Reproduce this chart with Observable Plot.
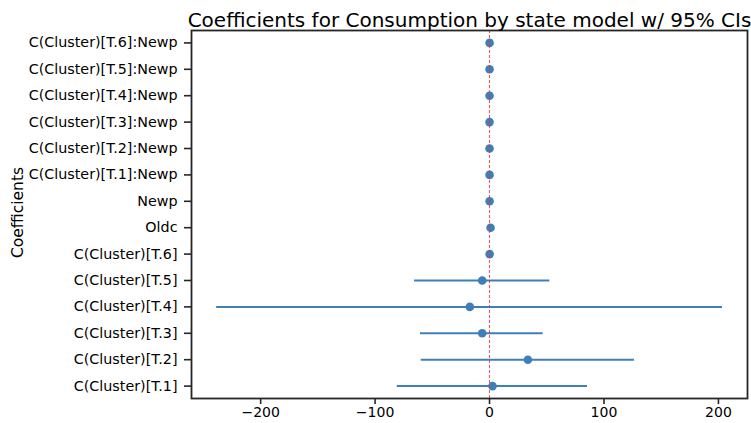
<!DOCTYPE html>
<html>
<head>
<meta charset="utf-8">
<script src="https://cdn.jsdelivr.net/npm/d3@7"></script>
<script src="https://cdn.jsdelivr.net/npm/@observablehq/plot@0.6"></script>
<style>
  html, body { margin: 0; padding: 0; background: #fff; }
</style>
</head>
<body>
<div id="chart"></div>
<script>
const title = "Coefficients for Consumption by state model w/ 95% CIs";
const yLabel = "Coefficients";
const terms = [
  "C(Cluster)[T.1]", "C(Cluster)[T.2]", "C(Cluster)[T.3]", "C(Cluster)[T.4]",
  "C(Cluster)[T.5]", "C(Cluster)[T.6]", "Oldc", "Newp",
  "C(Cluster)[T.1]:Newp", "C(Cluster)[T.2]:Newp", "C(Cluster)[T.3]:Newp",
  "C(Cluster)[T.4]:Newp", "C(Cluster)[T.5]:Newp", "C(Cluster)[T.6]:Newp"
];
const coef  = [2.6, 33.5, -6.4, -17.2, -6.4, 0.1, 0.9, 0.05, 0.02, 0.01, 0.0, 0.01, 0.02, 0.05];
const lower = [-80.6, -59.7, -60.3, -238.4, -65.5, -0.4, 0.6, -0.2, -0.3, -0.3, -0.3, -0.3, -0.3, -0.3];
const upper = [85.6, 126.6, 46.9, 203.5, 52.7, 0.6, 1.2, 0.3, 0.3, 0.3, 0.3, 0.3, 0.3, 0.3];
const xTicks = [-200, -100, 0, 100, 200];

const rows = terms.map((t, i) => ({term: t, coef: coef[i], lo: lower[i], hi: upper[i]}));
const blue = "#3f7fb8";

const chart = Plot.plot({
  width: 751,
  height: 423,
  marginLeft: 191,
  marginRight: 4,
  marginTop: 30,
  marginBottom: 25,
  style: {fontFamily: "DejaVu Sans", fontSize: "14px", color: "#000", background: "#fff", overflow: "visible"},
  x: {domain: [-260.4, 225.4], label: null},
  y: {type: "point", domain: terms.slice().reverse(), padding: 0.47, round: false, label: null},
  marks: [
    Plot.ruleY(rows, {y: "term", x1: "lo", x2: "hi", stroke: blue, strokeWidth: 2}),
    Plot.dot(rows, {y: "term", x: "coef", r: 4.3, fill: blue, stroke: "none"}),
    Plot.ruleX([0], {stroke: "#f03030", strokeOpacity: 0.85, strokeWidth: 1, strokeDasharray: "3,2"}),
    Plot.frame({stroke: "#262626", strokeWidth: 1.8}),
    Plot.axisX({ticks: xTicks, tickFormat: d3.format("d"), tickSize: 6, tickPadding: 3, strokeWidth: 1.6, stroke: "#262626", fontSize: 14, label: null}),
    Plot.axisY({tickSize: 7, tickPadding: 7, strokeWidth: 1.6, stroke: "#262626", fontSize: 14.3, label: null}),
    Plot.text([yLabel], {frameAnchor: "left", textAnchor: "middle", dx: -173, dy: -2, rotate: -90, fontSize: 15.5}),
    Plot.text([title], {frameAnchor: "top", lineAnchor: "bottom", dy: -4, fontSize: 20})
  ]
});
document.getElementById("chart").appendChild(chart);
</script>
</body>
</html>
